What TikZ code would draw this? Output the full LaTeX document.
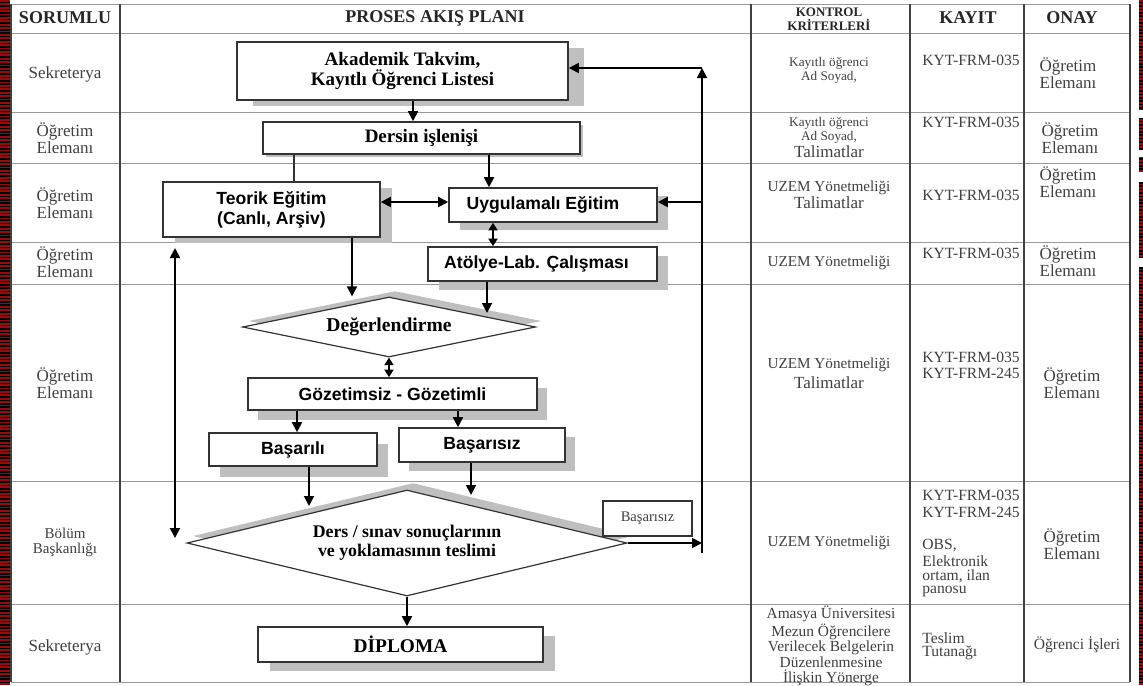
\documentclass[tikz,border=0pt]{standalone}
\usepackage{fontspec}
\setmainfont{Liberation Serif}
\newfontfamily\arialf{Liberation Sans}
\usetikzlibrary{shapes.geometric,shadows,arrows.meta}
\definecolor{stripered}{HTML}{9A0A0A}
\begin{document}
\begin{tikzpicture}[x=0.5pt,y=-0.5pt,
  vline/.style={draw=black!75, line width=0.75pt},
  hline/.style={draw=black!40, line width=0.5pt},
  shd/.style 2 args={general shadow={fill=black!25, shadow xshift=#1, shadow yshift=#2}},
  box/.style={draw=black!80, line width=0.8pt, fill=white, inner sep=0pt, align=center},
  sbox/.style={box, font=\arialf\bfseries\fontsize{8.8}{10}\selectfont},
  rbox/.style={box, font=\bfseries\fontsize{9.5}{10}\selectfont},
  dia/.style={diamond, aspect=4, draw=black!80, line width=0.6pt, fill=white, inner sep=0pt, align=center},
  arr/.style={-{Triangle[length=5pt,width=5pt]}, line width=0.9pt, black},
  darr/.style={{Triangle[length=5pt,width=5pt]}-{Triangle[length=5pt,width=5pt]}, line width=0.9pt, black},
  sdarr/.style={{Triangle[length=3.8pt,width=4.5pt]}-{Triangle[length=3.8pt,width=4.5pt]}, line width=0.9pt, black},
  plain/.style={line width=0.9pt, black!80},
  cell/.style={text=black!75, inner sep=0pt, align=center, font=\fontsize{8.5}{8.5}\selectfont},
  small/.style={cell, font=\fontsize{6.6}{7}\selectfont},
  uzem/.style={cell, font=\fontsize{7.6}{8}\selectfont},
  kyt/.style={cell, anchor=west, font=\fontsize{7.8}{8}\selectfont},
  head/.style={text=black!85, inner sep=0pt, align=center, font=\bfseries\fontsize{9}{9}\selectfont}
]
\useasboundingbox (0,0) rectangle (1143,685);
\fill[white] (0,0) rectangle (1143,685);
% decorative stripes
\fill[black] (0,0) rectangle (10,685);
\foreach \i in {0,...,201} \fill[stripered] (0,{\i*3.4}) rectangle (10,{\i*3.4+1.7});
\fill[black] (1139,0) rectangle (1143,685);
\foreach \i in {0,...,201} \fill[stripered] (1139,{\i*3.4}) rectangle (1143,{\i*3.4+1.7});
\foreach \a/\b in {110/118,150/157,172/182,258/267} \fill[white] (1139,\a) rectangle (1143,\b);

% table
\foreach \y in {33,112,163,242,284,481,604} \draw[hline] (11,\y) -- (1130,\y);
\draw[hline] (11,4) -- (1130,4);
\draw[hline] (11,682) -- (1130,682);
\foreach \x in {11,120,751,910,1024,1130} \draw[vline] (\x,4) -- (\x,682);

% headers
\node[head] (h1) at (65,18) {SORUMLU};
\node[head] (h2) at (435,18) {PROSES AKIŞ PLANI};
\node[head, font=\bfseries\fontsize{6.5}{7}\selectfont] (h3) at (829,19) {KONTROL\\KRİTERLERİ};
\node[head] (h4) at (968,18) {KAYIT};
\node[head] (h5) at (1072,18) {ONAY};

% column 1
\node[cell] (s1) at (65,74) {Sekreterya};
\node[cell] (s2) at (65,138.5) {Öğretim\\Elemanı};
\node[cell] (s3) at (65,203.5) {Öğretim\\Elemanı};
\node[cell] (s4) at (65,262.5) {Öğretim\\Elemanı};
\node[cell] (s5) at (65,383) {Öğretim\\Elemanı};
\node[cell, font=\fontsize{7.5}{7.5}\selectfont] (s6) at (65,542.5) {Bölüm\\Başkanlığı};
\node[cell] (s7) at (65,647) {Sekreterya};

% kontrol column
\node[small] (k1) at (829,70) {Kayıtlı öğrenci\\Ad Soyad,};
\node[small] (k2) at (829,130) {Kayıtlı öğrenci\\Ad Soyad,};
\node[cell] (k2b) at (829,152) {Talimatlar};
\node[uzem] (k3) at (829,188) {UZEM Yönetmeliği};
\node[cell] (k3b) at (829,203) {Talimatlar};
\node[uzem] (k4) at (829,263) {UZEM Yönetmeliği};
\node[uzem] (k5) at (829,365) {UZEM Yönetmeliği};
\node[cell] (k5b) at (829,383) {Talimatlar};
\node[uzem] (k6) at (829,543) {UZEM Yönetmeliği};
\node[cell, font=\fontsize{7.7}{7.75}\selectfont] (k7) at (831,646) {Amasya Üniversitesi\\Mezun Öğrencilere\\Verilecek Belgelerin\\Düzenlenmesine\\İlişkin Yönerge};

% kayit column
\node[kyt] (r1) at (922,60) {KYT-FRM-035};
\node[kyt] (r2) at (922,122) {KYT-FRM-035};
\node[kyt] (r3) at (922,195) {KYT-FRM-035};
\node[kyt] (r4) at (922,253) {KYT-FRM-035};
\node[kyt] (r5a) at (922,357) {KYT-FRM-035};
\node[kyt] (r5b) at (922,373) {KYT-FRM-245};
\node[kyt] (r6a) at (922,495) {KYT-FRM-035};
\node[kyt] (r6b) at (922,512) {KYT-FRM-245};
\node[kyt] (r6c) at (922,546) {OBS,};
\node[kyt] (r6d) at (922,561) {Elektronik};
\node[kyt] (r6e) at (922,576) {ortam, ilan};
\node[kyt] (r6f) at (922,591) {panosu};
\node[kyt] (r7a) at (922,638) {Teslim};
\node[kyt] (r7b) at (922,653) {Tutanağı};

% onay column
\node[cell] (o1) at (1068,73.5) {Öğretim\\Elemanı};
\node[cell] (o2) at (1070,138.5) {Öğretim\\Elemanı};
\node[cell] (o3) at (1068,182.5) {Öğretim\\Elemanı};
\node[cell] (o4) at (1068,261) {Öğretim\\Elemanı};
\node[cell] (o5) at (1072,383.5) {Öğretim\\Elemanı};
\node[cell] (o6) at (1072,544) {Öğretim\\Elemanı};
\node[cell, font=\fontsize{7.8}{8}\selectfont] (o7) at (1077,645) {Öğrenci İşleri};

% flow boxes
\node[rbox, shd={8pt}{-3pt}, minimum width=165.5pt, minimum height=29pt] (akad) at (402.5,71) {Akademik Takvim,\\Kayıtlı Öğrenci Listesi};
\node[rbox, shd={1.5pt}{-1.5pt}, minimum width=158.5pt, minimum height=16pt] (ders) at (421.5,138) {Dersin işlenişi};
\node[sbox, shd={6pt}{-3pt}, minimum width=108.5pt, minimum height=27.5pt] (teor) at (271.5,209.5) {Teorik Eğitim\\(Canlı, Arşiv)};
\node[sbox, shd={5.5pt}{-4pt}, minimum width=104pt, minimum height=17pt] (uyg) at (553,205) {\hspace*{-10pt}Uygulamalı Eğitim};
\node[sbox, shd={5.5pt}{-4.5pt}, minimum width=114.5pt, minimum height=17pt] (atl) at (542.5,264) {\hspace*{-6pt}Atölye-Lab. Çalışması};
\node[dia, shd={3pt}{3pt}, minimum width=146.5pt, minimum height=30pt, font=\bfseries\fontsize{9.8}{10}\selectfont] (deg) at (389,327) {Değerlendirme};
\node[sbox, shd={5pt}{-5pt}, minimum width=144.5pt, minimum height=16pt] (goz) at (392.5,394) {Gözetimsiz - Gözetimli};
\node[sbox, shd={5.5pt}{-5.5pt}, minimum width=84pt, minimum height=16.5pt] (bas1) at (293,449.5) {Başarılı};
\node[sbox, shd={5pt}{-4.5pt}, minimum width=83pt, minimum height=17pt] (bas2) at (482,445) {Başarısız};
\node[dia, shd={3pt}{3.5pt}, minimum width=220pt, minimum height=53pt, font=\bfseries\fontsize{8.9}{9.5}\selectfont] (big) at (407,543) {Ders / sınav sonuçlarının\\ve yoklamasının teslimi};
\node[rbox, shd={6pt}{-4.5pt}, minimum width=142.5pt, minimum height=17.5pt, font=\bfseries\fontsize{9.7}{10}\selectfont] (dip) at (400.5,644.5) {DİPLOMA};
\node[box, line width=0.6pt, minimum width=44.5pt, minimum height=17.5pt, text=black!75, font=\fontsize{7.3}{8}\selectfont] (bl) at (647.5,518.5) {Başarısız};

% helper coordinates
\coordinate (xa) at (413,0);
\coordinate (xb) at (294,0);
\coordinate (xc) at (489,0);
\coordinate (yd) at (0,202);
\coordinate (xe) at (493,0);
\coordinate (xf) at (352,0);
\coordinate (tg) at (487,313);
\coordinate (xg) at (487,0);
\coordinate (xh) at (389,0);
\coordinate (xi) at (297,0);
\coordinate (xj) at (458,0);
\coordinate (xk) at (309,0);
\coordinate (tk) at (309,506);
\coordinate (xl) at (471,0);
\coordinate (tl) at (471,495);
\coordinate (fbtop) at (702,68);
\coordinate (fbbot) at (702,553);
\coordinate (lt) at (175,248);
\coordinate (lb) at (175,538);

% connectors
\draw[arr] (akad.south -| xa) -- (ders.north -| xa);
\draw[plain] (ders.south -| xb) -- (teor.north -| xb);
\draw[arr] (ders.south -| xc) -- (uyg.north -| xc);
\draw[darr] (teor.east |- yd) -- (uyg.west |- yd);
\draw[sdarr] (uyg.south -| xe) -- (atl.north -| xe);
\draw[arr] (teor.south -| xf) -- (deg.north -| xf);
\draw[arr] (atl.south -| xg) -- (tg);
\draw[sdarr] (deg.south -| xh) -- (goz.north -| xh);
\draw[arr] (goz.south -| xi) -- (bas1.north -| xi);
\draw[arr] (goz.south -| xj) -- (bas2.north -| xj);
\draw[arr] (bas1.south -| xk) -- (tk);
\draw[arr] (bas2.south -| xl) -- (tl);
\draw[arr] (big.south) -- (dip.north -| big.south);
\draw[arr] (big.east) -- (big.east -| fbtop);
\draw[arr] (fbbot) -- (fbtop);
\draw[arr] (fbtop) -- (akad.east |- fbtop);
\draw[arr] (fbtop |- yd) -- (uyg.east |- yd);
\draw[darr] (lt) -- (lb);
\end{tikzpicture}
\end{document}
